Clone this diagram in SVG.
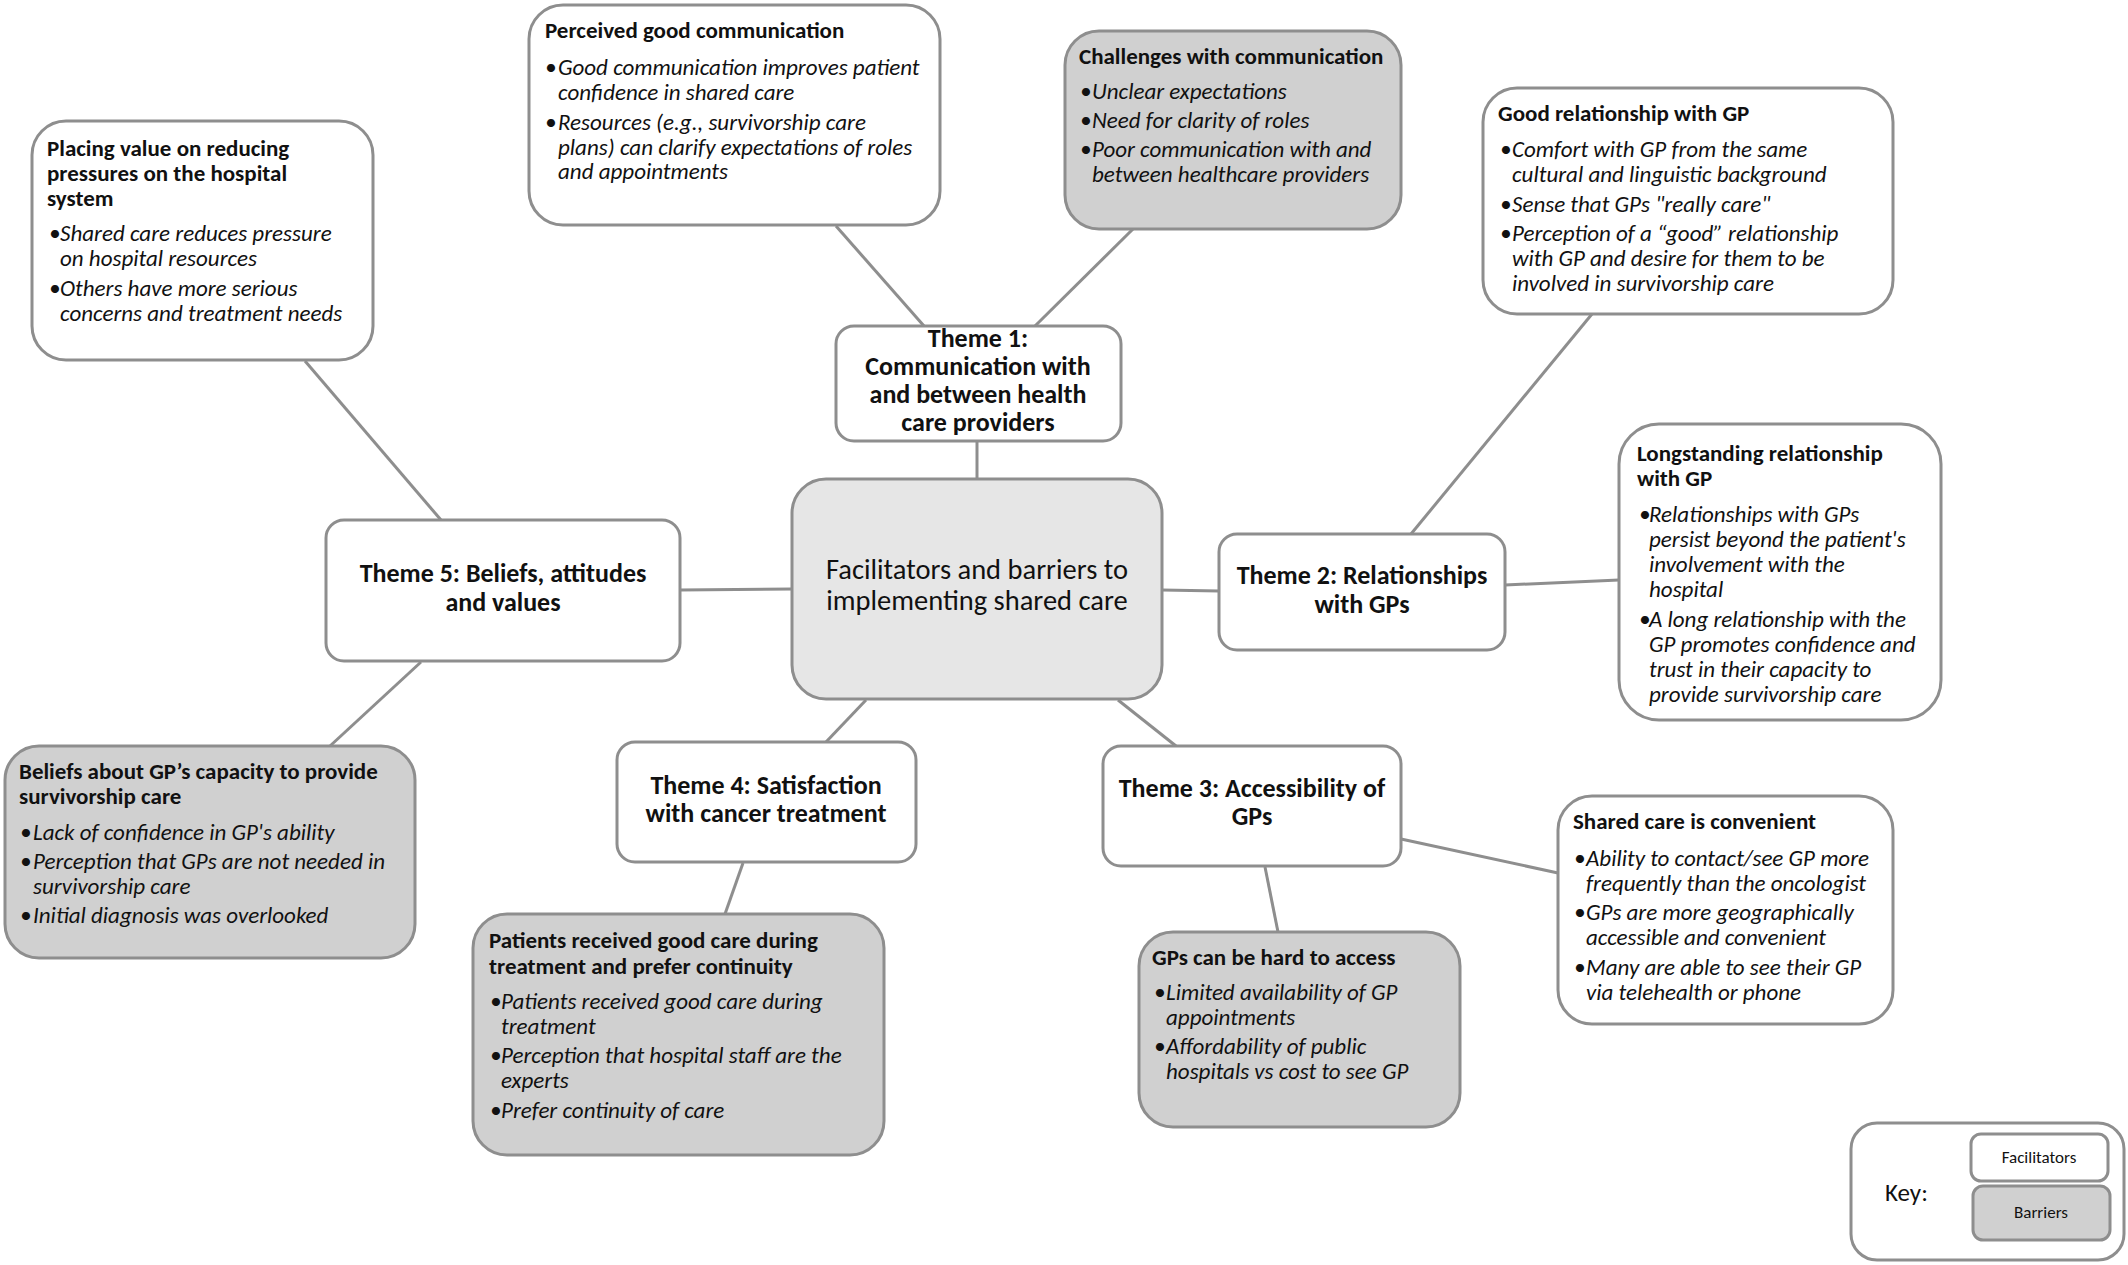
<svg xmlns="http://www.w3.org/2000/svg" width="2128" height="1265" viewBox="0 0 2128 1265">
<style>
text{font-family:Carlito,"Liberation Sans Narrow","DejaVu Sans Condensed",Roboto,sans-serif;fill:#111}
.box{stroke:#8e8e8e;stroke-width:3}
.fac{fill:#fff}
.bar{fill:#d0d0d0}
.ctr{fill:#e6e6e6}
.t{font-size:23px;font-weight:bold}
.b{font-size:23px;font-style:italic}
.th{font-size:26px;font-weight:bold;text-anchor:middle}
.c{font-size:28.5px;text-anchor:middle}
.k{font-size:17px;text-anchor:middle}
#connectors line{stroke:#8e8e8e;stroke-width:3}
</style>
<rect width="2128" height="1265" fill="#fff"/>
<g id="connectors">
<line x1="836" y1="226" x2="924" y2="326"/>
<line x1="1133" y1="229" x2="1035" y2="326"/>
<line x1="977" y1="441" x2="977" y2="479"/>
<line x1="1592" y1="314" x2="1411" y2="534"/>
<line x1="1162" y1="590" x2="1219" y2="591"/>
<line x1="1505" y1="585" x2="1619" y2="580"/>
<line x1="305" y1="361" x2="441" y2="520"/>
<line x1="680" y1="590" x2="792" y2="589"/>
<line x1="421" y1="662" x2="330" y2="746"/>
<line x1="866" y1="700" x2="826" y2="742"/>
<line x1="1118" y1="700" x2="1176" y2="746"/>
<line x1="743" y1="863" x2="725" y2="914"/>
<line x1="1265" y1="867" x2="1278" y2="932"/>
<line x1="1401" y1="839" x2="1558" y2="873"/>
</g>
<g id="perceived-good-communication">
<rect class="box fac" x="529" y="5" width="411" height="220" rx="34"/>
<text class="t" x="545" y="38">Perceived good communication</text>
<text class="b" x="545" y="75">•</text><text class="b" x="558" y="75">Good communication improves patient</text>
<text class="b" x="558" y="100">confidence in shared care</text>
<text class="b" x="545" y="130">•</text><text class="b" x="558" y="130">Resources (e.g., survivorship care</text>
<text class="b" x="558" y="155">plans) can clarify expectations of roles</text>
<text class="b" x="558" y="179">and appointments</text>
</g>
<g id="challenges-with-communication">
<rect class="box bar" x="1065" y="31" width="336" height="198" rx="34"/>
<text class="t" x="1079" y="64">Challenges with communication</text>
<text class="b" x="1080" y="99">•</text><text class="b" x="1092" y="99">Unclear expectations</text>
<text class="b" x="1080" y="128">•</text><text class="b" x="1092" y="128">Need for clarity of roles</text>
<text class="b" x="1080" y="157">•</text><text class="b" x="1092" y="157">Poor communication with and</text>
<text class="b" x="1092" y="182">between healthcare providers</text>
</g>
<g id="good-relationship-with-gp">
<rect class="box fac" x="1483" y="88" width="410" height="226" rx="34"/>
<text class="t" x="1498" y="121">Good relationship with GP</text>
<text class="b" x="1500" y="157">•</text><text class="b" x="1512" y="157">Comfort with GP from the same</text>
<text class="b" x="1512" y="182">cultural and linguistic background</text>
<text class="b" x="1500" y="212">•</text><text class="b" x="1512" y="212">Sense that GPs "really care"</text>
<text class="b" x="1500" y="241">•</text><text class="b" x="1512" y="241">Perception of a “good” relationship</text>
<text class="b" x="1512" y="266">with GP and desire for them to be</text>
<text class="b" x="1512" y="291">involved in survivorship care</text>
</g>
<g id="placing-value">
<rect class="box fac" x="32" y="121" width="341" height="239" rx="34"/>
<text class="t" x="47" y="156">Placing value on reducing</text>
<text class="t" x="47" y="181">pressures on the hospital</text>
<text class="t" x="47" y="206">system</text>
<text class="b" x="49" y="241">•</text><text class="b" x="60" y="241">Shared care reduces pressure</text>
<text class="b" x="60" y="266">on hospital resources</text>
<text class="b" x="49" y="296">•</text><text class="b" x="60" y="296">Others have more serious</text>
<text class="b" x="60" y="321">concerns and treatment needs</text>
</g>
<g id="theme1">
<rect class="box fac" x="836" y="326" width="285" height="115" rx="18"/>
<text class="th" x="978" y="347">Theme 1:</text>
<text class="th" x="978" y="375">Communication with</text>
<text class="th" x="978" y="403">and between health</text>
<text class="th" x="978" y="431">care providers</text>
</g>
<g id="center">
<rect class="box ctr" x="792" y="479" width="370" height="220" rx="34"/>
<text class="c" x="977" y="579">Facilitators and barriers to</text>
<text class="c" x="977" y="610">implementing shared care</text>
</g>
<g id="theme5">
<rect class="box fac" x="326" y="520" width="354" height="141" rx="18"/>
<text class="th" x="503" y="582">Theme 5: Beliefs, attitudes</text>
<text class="th" x="503" y="611">and values</text>
</g>
<g id="theme2">
<rect class="box fac" x="1219" y="534" width="286" height="116" rx="18"/>
<text class="th" x="1362" y="584">Theme 2: Relationships</text>
<text class="th" x="1362" y="613">with GPs</text>
</g>
<g id="longstanding-relationship">
<rect class="box fac" x="1619" y="424" width="322" height="296" rx="40"/>
<text class="t" x="1637" y="461">Longstanding relationship</text>
<text class="t" x="1637" y="486">with GP</text>
<text class="b" x="1639" y="522">•</text><text class="b" x="1649" y="522">Relationships with GPs</text>
<text class="b" x="1649" y="547">persist beyond the patient's</text>
<text class="b" x="1649" y="572">involvement with the</text>
<text class="b" x="1649" y="597">hospital</text>
<text class="b" x="1639" y="627">•</text><text class="b" x="1649" y="627">A long relationship with the</text>
<text class="b" x="1649" y="652">GP promotes confidence and</text>
<text class="b" x="1649" y="677">trust in their capacity to</text>
<text class="b" x="1649" y="702">provide survivorship care</text>
</g>
<g id="beliefs-about-gp">
<rect class="box bar" x="5" y="746" width="410" height="212" rx="34"/>
<text class="t" x="19" y="779">Beliefs about GP’s capacity to provide</text>
<text class="t" x="19" y="804">survivorship care</text>
<text class="b" x="20" y="840">•</text><text class="b" x="33" y="840">Lack of confidence in GP's ability</text>
<text class="b" x="20" y="869">•</text><text class="b" x="33" y="869">Perception that GPs are not needed in</text>
<text class="b" x="33" y="894">survivorship care</text>
<text class="b" x="20" y="923">•</text><text class="b" x="33" y="923">Initial diagnosis was overlooked</text>
</g>
<g id="theme4">
<rect class="box fac" x="617" y="742" width="299" height="120" rx="18"/>
<text class="th" x="766" y="794">Theme 4: Satisfaction</text>
<text class="th" x="766" y="822">with cancer treatment</text>
</g>
<g id="theme3">
<rect class="box fac" x="1103" y="746" width="298" height="120" rx="18"/>
<text class="th" x="1252" y="797">Theme 3: Accessibility of</text>
<text class="th" x="1252" y="825">GPs</text>
</g>
<g id="shared-care-convenient">
<rect class="box fac" x="1558" y="796" width="335" height="228" rx="34"/>
<text class="t" x="1573" y="829">Shared care is convenient</text>
<text class="b" x="1574" y="866">•</text><text class="b" x="1586" y="866">Ability to contact/see GP more</text>
<text class="b" x="1586" y="891">frequently than the oncologist</text>
<text class="b" x="1574" y="920">•</text><text class="b" x="1586" y="920">GPs are more geographically</text>
<text class="b" x="1586" y="945">accessible and convenient</text>
<text class="b" x="1574" y="975">•</text><text class="b" x="1586" y="975">Many are able to see their GP</text>
<text class="b" x="1586" y="1000">via telehealth or phone</text>
</g>
<g id="patients-received-good-care">
<rect class="box bar" x="473" y="914" width="411" height="241" rx="34"/>
<text class="t" x="489" y="948">Patients received good care during</text>
<text class="t" x="489" y="974">treatment and prefer continuity</text>
<text class="b" x="490" y="1009">•</text><text class="b" x="501" y="1009">Patients received good care during</text>
<text class="b" x="501" y="1034">treatment</text>
<text class="b" x="490" y="1063">•</text><text class="b" x="501" y="1063">Perception that hospital staff are the</text>
<text class="b" x="501" y="1088">experts</text>
<text class="b" x="490" y="1118">•</text><text class="b" x="501" y="1118">Prefer continuity of care</text>
</g>
<g id="gps-hard-to-access">
<rect class="box bar" x="1139" y="932" width="321" height="195" rx="34"/>
<text class="t" x="1152" y="965">GPs can be hard to access</text>
<text class="b" x="1154" y="1000">•</text><text class="b" x="1166" y="1000">Limited availability of GP</text>
<text class="b" x="1166" y="1025">appointments</text>
<text class="b" x="1154" y="1054">•</text><text class="b" x="1166" y="1054">Affordability of public</text>
<text class="b" x="1166" y="1079">hospitals vs cost to see GP</text>
</g>
<g id="key">
<rect class="box fac" x="1851" y="1123" width="273" height="137" rx="26"/>
<text x="1885" y="1201" font-size="25">Key:</text>
<rect class="box fac" x="1971" y="1134" width="137" height="47" rx="10"/>
<text class="k" x="2039" y="1163">Facilitators</text>
<rect class="box bar" x="1973" y="1186" width="137" height="54" rx="10"/>
<text class="k" x="2041" y="1218">Barriers</text>
</g>
</svg>
